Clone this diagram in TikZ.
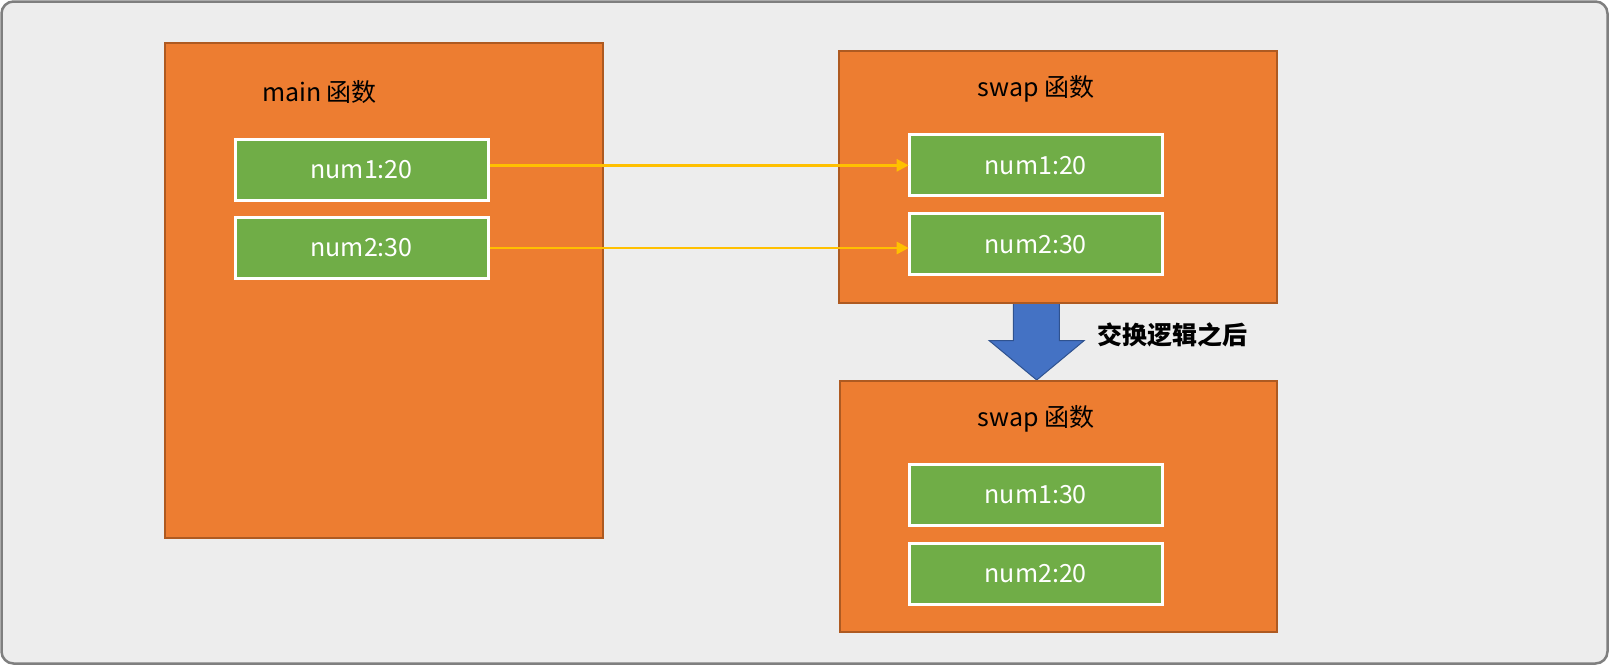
\documentclass[tikz,border=0pt]{standalone}
\usepackage{fontspec}
\setmainfont{Noto Sans CJK SC}
\usetikzlibrary{arrows.meta}
\definecolor{bg}{HTML}{EDEDED}
\definecolor{frame}{HTML}{7F7F7F}
\definecolor{orangefill}{HTML}{ED7D31}
\definecolor{orangeline}{HTML}{AE5A21}
\definecolor{greenfill}{HTML}{70AD47}
\definecolor{arrowgold}{HTML}{FFC000}
\definecolor{bluefill}{HTML}{4472C4}
\definecolor{blueline}{HTML}{2F528F}
\begin{document}
\begin{tikzpicture}[x=1pt,y=-1pt,
  funcbox/.style={draw=orangeline, fill=orangefill, line width=1.5pt, anchor=north west, inner sep=0pt},
  varbox/.style={draw=white, fill=greenfill, line width=3pt, minimum width=253pt, minimum height=61pt,
    inner sep=0pt, text=white, font=\fontsize{25}{30}\selectfont},
  titletext/.style={font=\fontsize{25}{30}\selectfont, text=black, inner sep=0pt},
  copyarrow/.style={draw=arrowgold, line width=2.7pt, -{Triangle[length=12pt,width=12pt]}, shorten >=-1pt}
]
\useasboundingbox (0,0) rectangle (1609,665);
\draw[rounded corners=12pt, line width=2.5pt, draw=frame, fill=bg] (1.5,1.5) rectangle (1607.5,663.5);

% blue arrow
\draw[fill=bluefill, draw=blueline, line width=1pt]
  (1013.3,301) -- (1059.3,301) -- (1059.3,340.7) -- (1084,340.7) -- (1036.7,380)
  -- (989.3,340.7) -- (1013.3,340.7) -- cycle;

% function boxes
\node[funcbox, minimum width=438pt, minimum height=495pt] (main) at (164,42) {};
\node[funcbox, minimum width=438pt, minimum height=252pt] (swapA) at (838,50) {};
\node[funcbox, minimum width=437pt, minimum height=251pt] (swapB) at (839,380) {};

\node[titletext] (tmain) at (319.5,92) {main 函数};
\node[titletext] (tswapA) at (1036,89) {swap 函数};
\node[titletext] (tswapB) at (1036,419) {swap 函数};

% variable boxes
\node[varbox] (m1) at (361.5,169.5) {num1:20};
\node[varbox] (m2) at (361.5,248) {num2:30};
\node[varbox] (s1) at (1035.7,165.3) {num1:20};
\node[varbox] (s2) at (1035.7,244.3) {num2:30};
\node[varbox] (r1) at (1035.7,494.5) {num1:30};
\node[varbox] (r2) at (1035.7,573.5) {num2:20};

% copy arrows
\draw[copyarrow] (m1.east |- s1.west) -- (s1.west);
\draw[copyarrow] (m2.east) -- (m2.east -| s2.west);

% label
\node[anchor=west, inner sep=0pt, font=\fontsize{25}{29}\selectfont\bfseries] (lbl) at (1097,335) {交换逻辑之后};
\end{tikzpicture}
\end{document}
